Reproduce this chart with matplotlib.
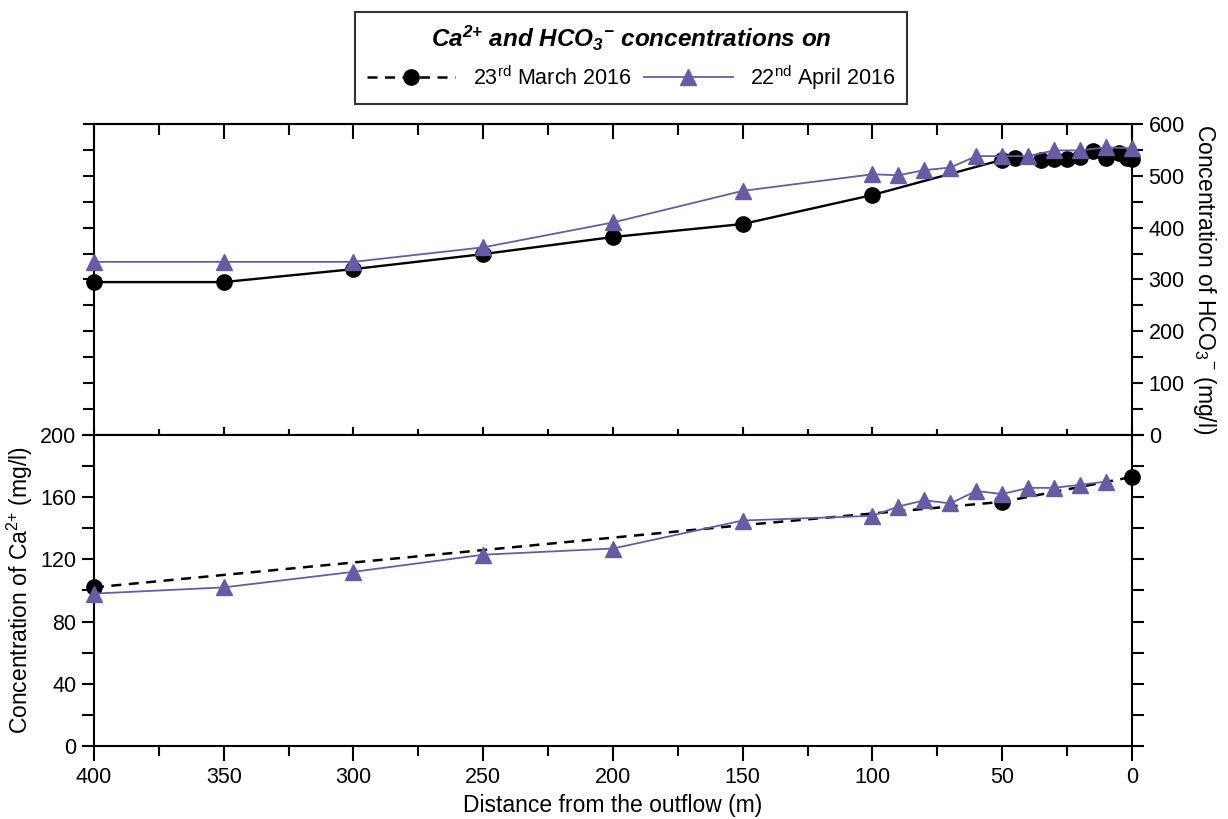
import matplotlib
matplotlib.use('Agg')
import matplotlib.pyplot as plt
from matplotlib.ticker import MultipleLocator

plt.rcParams['font.family'] = ['Liberation Sans', 'DejaVu Sans']
plt.rcParams['mathtext.fontset'] = 'custom'
plt.rcParams['mathtext.rm'] = 'Liberation Sans'
plt.rcParams['mathtext.it'] = 'Liberation Sans:italic'
plt.rcParams['mathtext.bf'] = 'Liberation Sans:bold'
plt.rcParams['mathtext.bfit'] = 'Liberation Sans:italic:bold'

# HCO3- (mg/l), upper panel
hco3_march_x = [400, 350, 300, 250, 200, 150, 100, 50, 45, 35, 30, 25, 20, 15, 10, 5, 2, 0]
hco3_march_y = [295, 295, 320, 349, 382, 407, 463, 531, 534, 531, 533, 533, 536, 548, 534, 544, 534, 532]
hco3_april_x = [400, 350, 300, 250, 200, 150, 100, 90, 80, 70, 60, 50, 40, 30, 20, 10, 0]
hco3_april_y = [334, 334, 334, 362, 410, 471, 503, 501, 511, 516, 538, 538, 538, 549, 549, 555, 553]

# Ca2+ (mg/l), lower panel
ca_march_x = [400, 150, 50, 0]
ca_march_y = [102, 142, 157, 173]
ca_april_x = [400, 350, 300, 250, 200, 150, 100, 90, 80, 70, 60, 50, 40, 30, 20, 10]
ca_april_y = [98, 102, 112, 123, 127, 145, 148, 154, 158, 156, 164, 162, 166, 166, 168, 170]

purple = '#6a5aa6'
fs = 15.5

fig = plt.figure(figsize=(12.28, 8.19), dpi=100)
ax1 = fig.add_axes([0.0765, 0.4689, 0.8453, 0.3797])
ax2 = fig.add_axes([0.0765, 0.0891, 0.8453, 0.3798], sharex=ax1)

for ax in (ax1, ax2):
    for s in ax.spines.values():
        s.set_linewidth(1.5)

# upper panel
ax1.plot(hco3_march_x, hco3_march_y, color='black', lw=1.7, marker='o', ms=11,
         clip_on=False, zorder=3)
ax1.plot(hco3_april_x, hco3_april_y, color=purple, lw=1.3, marker='^', ms=11,
         clip_on=False, zorder=4)
ax1.set_xlim(400, 0)
ax1.set_ylim(0, 600)
ax1.xaxis.set_major_locator(MultipleLocator(50))
ax1.xaxis.set_minor_locator(MultipleLocator(25))
ax1.yaxis.set_major_locator(MultipleLocator(100))
ax1.yaxis.set_minor_locator(MultipleLocator(50))
ax1.tick_params(axis='x', which='both', top=False, bottom=True, labelbottom=False,
                direction='inout', width=1.5)
ax1.tick_params(axis='x', which='major', length=12)
ax1.tick_params(axis='x', which='minor', length=8.5)
ax1.tick_params(axis='y', which='both', left=True, right=True, labelleft=False,
                labelright=True, direction='out', length=8, width=1.5,
                labelsize=fs, pad=4)
top = ax1.secondary_xaxis('top')
top.xaxis.set_major_locator(MultipleLocator(50))
top.xaxis.set_minor_locator(MultipleLocator(25))
top.tick_params(axis='x', which='both', direction='in', width=1.5, labeltop=False)
top.tick_params(axis='x', which='major', length=11)
top.tick_params(axis='x', which='minor', length=8)
top.spines['top'].set_linewidth(1.5)
ax1.yaxis.set_label_position('right')
ax1.set_ylabel('Concentration of HCO$_3$$^{-}$ (mg/l)', fontsize=fs + 1,
               rotation=270, labelpad=24)

# lower panel
l_march, = ax2.plot(ca_march_x, ca_march_y, color='black', lw=1.8, ls=(0, (4, 3)),
                    marker='o', ms=11, markevery=[0, 2, 3], clip_on=False, zorder=3)
l_april, = ax2.plot(ca_april_x, ca_april_y, color=purple, lw=1.3, marker='^', ms=11,
                    clip_on=False, zorder=4)
ax2.set_ylim(0, 200)
ax2.yaxis.set_major_locator(MultipleLocator(40))
ax2.yaxis.set_minor_locator(MultipleLocator(20))
ax2.tick_params(axis='x', which='both', top=False, bottom=True, direction='out',
                width=1.5, labelsize=fs, pad=4)
ax2.tick_params(axis='x', which='major', length=11)
ax2.tick_params(axis='x', which='minor', length=7)
ax2.tick_params(axis='y', which='both', left=True, right=True, direction='out',
                length=8.5, width=1.5, labelsize=fs, pad=4)
ax2.set_xlabel('Distance from the outflow (m)', fontsize=fs + 1)
ax2.xaxis.set_label_coords(0.5, -0.155)
ax2.set_ylabel('Concentration of Ca$^{2{+}}$ (mg/l)', fontsize=fs + 1, labelpad=4)

leg = fig.legend([l_march, l_april],
                 ['23$^{\\mathrm{rd}}$ March 2016', '22$^{\\mathrm{nd}}$ April 2016'],
                 loc='upper center', bbox_to_anchor=(0.514, 0.999), ncol=2,
                 fontsize=fs, handlelength=4.1, columnspacing=0.6, handletextpad=0.8,
                 title='$\\mathbfit{Ca^{2{+}}}$ and $\\mathbfit{HCO_3}$$^{\\mathbfit{-}}$ concentrations on',
                 title_fontproperties={'size': 17.5, 'weight': 'bold', 'style': 'italic'},
                 frameon=True, fancybox=False, edgecolor='black', borderpad=0.55)
leg.get_frame().set_linewidth(1.5)

fig.savefig('out.png', dpi=100)
